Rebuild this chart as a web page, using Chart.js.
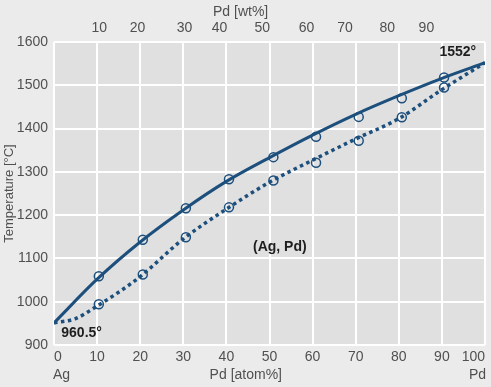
<!DOCTYPE html>
<html>
<head>
<meta charset="utf-8">
<script src="https://cdn.jsdelivr.net/npm/chart.js@4.4.1/dist/chart.umd.min.js"></script>
<style>
  html, body { margin: 0; padding: 0; background: #ebebeb; }
  #wrap { width: 491px; height: 387px; }
</style>
</head>
<body>
<div id="wrap"><canvas id="c" width="491" height="387"></canvas></div>
<script>
// ---- data (atom% Pd vs temperature °C) ----
const liquidusX = [0, 10, 20, 30, 40, 50, 60, 70, 80, 90, 100];
const liquidusT = [951, 1052, 1138, 1212, 1278, 1333, 1385, 1433, 1476, 1516, 1552];
const solidusX  = [0, 5, 10, 15, 20, 30, 40, 50, 60, 70, 80, 90, 100];
const solidusT  = [951, 961, 990, 1022, 1058, 1145, 1214, 1276, 1327, 1376, 1423, 1490, 1552];
const pointsX   = [10.4, 20.6, 30.6, 40.6, 50.9, 60.8, 70.7, 80.7, 90.5];
const liqPointsT = [1059, 1143, 1216, 1283, 1334, 1381, 1427, 1470, 1518];
const solPointsT = [994, 1063, 1149, 1218, 1280, 1321, 1372, 1426, 1495];
// top axis: wt% tick labels and their atom% positions
const wtTickLabels = ['10', '20', '30', '40', '50', '60', '70', '80', '90'];
const wtTickAt     = [10.5, 19.4, 30.3, 38.4, 48.3, 58.6, 67.5, 77.3, 86.4];
const yTicks = [900, 1600, 100]; // min, max, step
const xTicks = [0, 100, 10];
// annotations (text, x atom%, temperature)
const noteText = ['1552°', '960.5°', '(Ag, Pd)'];
const noteX    = [93.7, 6.4, 52.4];
const noteT    = [1576, 927, 1125];

const BLUE = '#1d4f7d';
const TICK = '#505050';
const FONT = "'Liberation Sans', Arial, sans-serif";

const pair = (xs, ys) => xs.map((x, i) => ({x, y: ys[i]}));

const bgPlugin = {
  id: 'bg',
  beforeDraw(chart) {
    const {ctx, chartArea: a} = chart;
    ctx.save();
    ctx.fillStyle = '#ebebeb';
    ctx.fillRect(0, 0, chart.width, chart.height);
    ctx.fillStyle = '#e0e0e0';
    ctx.fillRect(a.left, a.top, a.right - a.left, a.bottom - a.top);
    ctx.restore();
  },
  afterDraw(chart) {
    const {ctx, chartArea: a, scales} = chart;
    const xs = scales.x, ys = scales.y;
    ctx.save();
    ctx.textBaseline = 'middle';
    // annotations
    ctx.fillStyle = '#1e1e1e';
    ctx.font = 'bold 14px ' + FONT;
    ctx.textAlign = 'center';
    noteText.forEach((t, i) => {
      ctx.fillText(t, xs.getPixelForValue(noteX[i]), ys.getPixelForValue(noteT[i]));
    });
    // axis titles / end labels
    ctx.fillStyle = TICK;
    ctx.font = '14px ' + FONT;
    ctx.textAlign = 'center';
    ctx.fillText('Pd [wt%]', xs.getPixelForValue(43.3), a.top - 30);
    ctx.fillText('Pd [atom%]', xs.getPixelForValue(44.5), a.bottom + 30);
    ctx.textAlign = 'left';
    ctx.fillText('Ag', xs.getPixelForValue(0) - 1, a.bottom + 30);
    ctx.textAlign = 'right';
    ctx.fillText('Pd', xs.getPixelForValue(100) + 1, a.bottom + 30);
    ctx.restore();
  }
};

const fixH = h => s => { s.height = h; s.paddingLeft = 0; s.paddingRight = 0; };

new Chart(document.getElementById('c'), {
  type: 'line',
  data: {
    datasets: [
      { data: pair(liquidusX, liquidusT), borderColor: BLUE, borderWidth: 3,
        pointRadius: 0, cubicInterpolationMode: 'monotone', fill: false },
      { data: pair(solidusX, solidusT), borderColor: BLUE, borderWidth: 3.5,
        borderDash: [3.5, 3.5], borderCapStyle: 'butt',
        pointRadius: 0, cubicInterpolationMode: 'monotone', fill: false },
      { data: pair(pointsX, liqPointsT), showLine: false, pointRadius: 4.5,
        pointBorderWidth: 1.5, pointBorderColor: BLUE, pointBackgroundColor: 'rgba(0,0,0,0)' },
      { data: pair(pointsX, solPointsT), showLine: false, pointRadius: 4.5,
        pointBorderWidth: 1.5, pointBorderColor: BLUE, pointBackgroundColor: 'rgba(0,0,0,0)' }
    ]
  },
  options: {
    responsive: false,
    animation: false,
    devicePixelRatio: 1,
    layout: { padding: { left: 0, right: 6, top: 0, bottom: 0 } },
    plugins: { legend: { display: false }, tooltip: { enabled: false } },
    scales: {
      x: {
        type: 'linear', position: 'bottom',
        min: xTicks[0], max: xTicks[1],
        grid: { color: '#ffffff', lineWidth: 2, drawTicks: false },
        border: { display: false },
        ticks: { stepSize: xTicks[2], align: 'inner', padding: 4, color: TICK,
                 font: { family: FONT, size: 14 }, maxRotation: 0,
                 callback: v => String(v) },
        afterFit: fixH(42)
      },
      x2: {
        type: 'linear', position: 'top',
        min: xTicks[0], max: xTicks[1],
        grid: { display: false, drawTicks: false },
        border: { display: false },
        afterBuildTicks: s => { s.ticks = wtTickAt.map(v => ({ value: v })); },
        ticks: { autoSkip: false, padding: 5, color: TICK, maxRotation: 0,
                 font: { family: FONT, size: 14 },
                 callback: (v, i) => wtTickLabels[i] },
        afterFit: fixH(42)
      },
      y: {
        type: 'linear', position: 'left',
        min: yTicks[0], max: yTicks[1],
        grid: { color: '#ffffff', lineWidth: 2, drawTicks: false },
        border: { display: false },
        ticks: { stepSize: yTicks[2], padding: 6, color: TICK,
                 font: { family: FONT, size: 14 },
                 callback: v => String(v) },
        title: { display: true, text: 'Temperature [°C]', color: TICK,
                 font: { family: FONT, size: 13 }, padding: { top: 2, bottom: 0 } },
        afterFit: s => { s.width = 54; s.paddingTop = 0; s.paddingBottom = 0; }
      }
    }
  },
  plugins: [bgPlugin]
});
</script>
</body>
</html>
